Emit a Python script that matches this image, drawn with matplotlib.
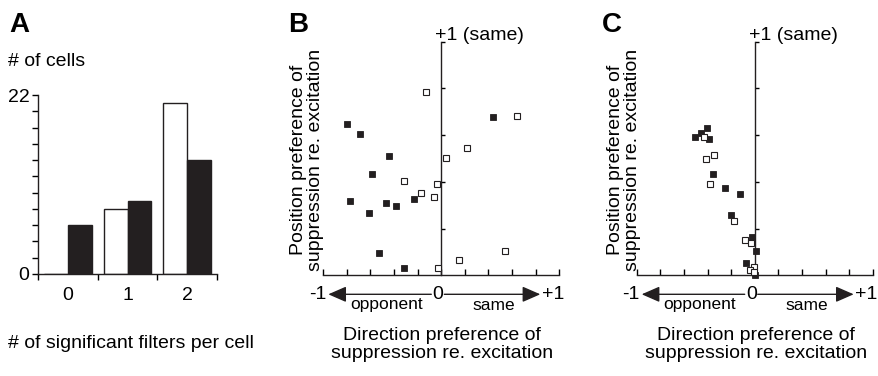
import matplotlib
matplotlib.use("Agg")
import matplotlib.pyplot as plt
import numpy as np

plt.rcParams['font.family'] = ['Liberation Sans', 'DejaVu Sans']

# ---------------- data ----------------
# Panel A: histogram of number of significant filters per cell
a_categories = [0, 1, 2]
a_open_counts = [0, 8, 21]
a_filled_counts = [6, 9, 14]

# Panel B: direction preference (x) vs position preference (y)
b_filled_x = [-0.80, -0.69, -0.44, -0.585, -0.77, -0.465, -0.385, -0.615, -0.235, -0.53, -0.315, 0.44]
b_filled_y = [0.646, 0.603, 0.511, 0.435, 0.317, 0.311, 0.295, 0.265, 0.325, 0.094, 0.031, 0.678]
b_open_x = [-0.127, 0.638, 0.218, 0.042, -0.319, -0.034, -0.175, -0.059, 0.537, 0.153, -0.028]
b_open_y = [0.783, 0.682, 0.546, 0.504, 0.404, 0.392, 0.351, 0.335, 0.103, 0.066, 0.030]

# Panel C
c_filled_x = [-0.403, -0.454, -0.508, -0.384, -0.356, -0.248, -0.121, -0.200, -0.022, 0.014, -0.070, 0.006]
c_filled_y = [0.629, 0.608, 0.590, 0.582, 0.433, 0.375, 0.347, 0.258, 0.163, 0.105, 0.051, 0.0]
c_open_x = [-0.432, -0.412, -0.344, -0.378, -0.172, -0.079, -0.031, -0.003, -0.036, -0.008]
c_open_y = [0.593, 0.496, 0.513, 0.391, 0.232, 0.151, 0.137, 0.037, 0.023, 0.015]

W, H = 879, 376
BLACK = '#231f20'
FS = 14

fig = plt.figure(figsize=(W / 100, H / 100), dpi=100)


def fx(px):
    return px / W


def fy(py):
    return 1 - py / H


def axes_px(left, right, top, bottom):
    return [fx(left), fy(bottom), (right - left) / W, (bottom - top) / H]


# ---------------- Panel A ----------------
axA = fig.add_axes(axes_px(37.7, 217.3, 95, 274))
xc = np.array(a_categories, dtype=float)
axA.bar(xc - 0.2, a_open_counts, width=0.4, color='white', edgecolor=BLACK, linewidth=1.0)
axA.bar(xc + 0.2, a_filled_counts, width=0.4, color=BLACK, edgecolor=BLACK, linewidth=1.0)
axA.set_xlim(-0.5, 2.5)
axA.set_ylim(0, 22)
for s in ['top', 'right']:
    axA.spines[s].set_visible(False)
for s in ['left', 'bottom']:
    axA.spines[s].set_linewidth(1.0)
    axA.spines[s].set_color(BLACK)
axA.set_xticks([-0.5, 0.5, 1.5, 2.5])
axA.set_xticklabels([])
axA.set_xticks(xc, minor=True)
axA.set_xticklabels([str(c) for c in a_categories], minor=True, fontsize=FS)
axA.tick_params(axis='x', which='major', direction='out', length=4, width=1.0)
axA.tick_params(axis='x', which='minor', length=0, pad=9)
yt = np.arange(0, 23, 2)
axA.set_yticks(yt)
axA.set_yticklabels(['0' if v == 0 else ('22' if v == 22 else '') for v in yt], fontsize=FS)
axA.tick_params(axis='y', direction='out', length=4, width=1.0, pad=2)

fig.text(fx(9), fy(25), 'A', fontsize=20, fontweight='bold', ha='left', va='center')
fig.text(fx(8), fy(62), '# of cells', fontsize=FS, ha='left', va='center')
fig.text(fx(8), fy(343), '# of significant filters per cell', fontsize=FS, ha='left', va='center')


# ---------------- Panels B and C ----------------
def scatter_panel(left, right, label, fx_, fy_, ox, oy, ylab_dx):
    top, bottom = 41.7, 275.3
    ax = fig.add_axes(axes_px(left, right, top, bottom))
    ax.plot(fx_, fy_, 's', ms=4.6, mfc=BLACK, mec=BLACK, mew=0.6, ls='none', clip_on=False, zorder=3)
    ax.plot(ox, oy, 's', ms=4.2, mfc='white', mec=BLACK, mew=0.8, ls='none', clip_on=False, zorder=4)
    ax.set_xlim(-1, 1)
    ax.set_ylim(0, 1)
    for s in ['top', 'right']:
        ax.spines[s].set_visible(False)
    ax.spines['left'].set_position(('data', 0))
    for s in ['left', 'bottom']:
        ax.spines[s].set_linewidth(1.0)
        ax.spines[s].set_color(BLACK)
    ax.set_xticks(np.round(np.arange(-1, 1.01, 0.2), 2))
    ax.set_yticks(np.round(np.arange(0.2, 1.01, 0.2), 2))
    ax.set_xticklabels([])
    ax.set_yticklabels([])
    ax.tick_params(axis='x', direction='in', length=4, width=1.0)
    ax.tick_params(axis='y', direction='in', length=3, width=1.0)

    L, R = left, right
    x0 = (L + R) / 2
    ay = 294.3
    fig.text(fx(L - 35), fy(25), label, fontsize=20, fontweight='bold', ha='left', va='center')
    fig.text(fx(x0 - 6), fy(35), '+1 (same)', fontsize=FS, ha='left', va='center')
    # direction axis with arrows
    fig.text(fx(L + 3), fy(ay), '-1', fontsize=FS, ha='right', va='center')
    fig.text(fx(x0 - 3.5), fy(ay), '0', fontsize=FS, ha='center', va='center')
    fig.text(fx(R + 5), fy(ay), '+1', fontsize=FS, ha='right', va='center')
    ap = dict(arrowstyle='-|>,head_length=0.55,head_width=0.24', color=BLACK, lw=1.0,
              mutation_scale=20, shrinkA=0, shrinkB=0)
    fig.add_artist(matplotlib.patches.FancyArrowPatch((fx(x0 - 10), fy(ay)), (fx(L + 5), fy(ay)),
                                                      transform=fig.transFigure, **ap))
    fig.add_artist(matplotlib.patches.FancyArrowPatch((fx(x0 + 3), fy(ay)), (fx(R - 19), fy(ay)),
                                                      transform=fig.transFigure, **ap))
    fig.text(fx(x0 - 55), fy(305), 'opponent', fontsize=FS - 1.5, ha='center', va='center')
    fig.text(fx(x0 + 52), fy(305), 'same', fontsize=FS - 1.5, ha='center', va='center')
    fig.text(fx(x0 + 1), fy(344.5), 'Direction preference of\nsuppression re. excitation',
             fontsize=FS, ha='center', va='center', multialignment='center', linespacing=1.1)
    fig.text(fx(L - ylab_dx), fy(160), 'Position preference of\nsuppression re. excitation',
             fontsize=FS, ha='center', va='center', rotation=90, multialignment='center',
             linespacing=0.95)
    return ax


scatter_panel(323.3, 559.3, 'B', b_filled_x, b_filled_y, b_open_x, b_open_y, 16.3)
scatter_panel(636.7, 872.7, 'C', c_filled_x, c_filled_y, c_open_x, c_open_y, 12.7)

fig.savefig('out.png', dpi=100)
